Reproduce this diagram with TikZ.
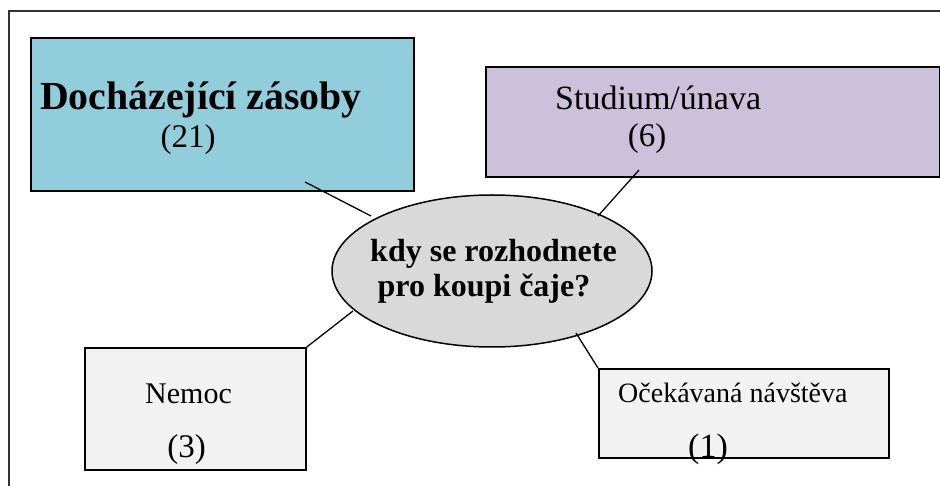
\documentclass[tikz,border=0pt]{standalone}
\usepackage{fontspec}
\setmainfont{Liberation Serif}
\usetikzlibrary{shapes.geometric}
\definecolor{aquafill}{HTML}{92CDDC}
\definecolor{lilacfill}{HTML}{CCC0DA}
\definecolor{palefill}{HTML}{F2F2F2}
\definecolor{ovalfill}{HTML}{D9D9D9}
\begin{document}
\begin{tikzpicture}[x=1pt,y=-1pt,
  box/.style={draw=black, line width=1.8pt, inner sep=0pt, anchor=north west},
  oval/.style={ellipse, draw=black, line width=1.5pt, fill=ovalfill, inner sep=0pt,
    minimum width=320pt, minimum height=152pt},
  link/.style={draw=black, line width=1.3pt},
  txt/.style={inner sep=0pt, anchor=base},
  txtl/.style={inner sep=0pt, anchor=base west}]
\useasboundingbox (0,0) rectangle (940,486);
\clip (0,0) rectangle (940,486);

% outer frame, running off the page on the right and at the bottom
\draw[line width=1.4pt, draw=black!80] (9,495) -- (9,11) -- (950,11);

% category boxes
\node[box, fill=aquafill, minimum width=383pt, minimum height=153pt] (dz) at (30,37) {};
\node[box, fill=lilacfill, minimum width=454pt, minimum height=110pt] (st) at (485,66) {};
\node[box, fill=palefill, minimum width=221pt, minimum height=122pt] (nm) at (84,347) {};
\node[box, fill=palefill, minimum width=290pt, minimum height=89pt] (ok) at (598,368) {};

% central question
\node[oval] (q) at (492,271) {};

% connector end points
\coordinate (dz-end) at (305,182);
\coordinate (q-dz) at (371,216);
\coordinate (st-end) at (639,170);
\coordinate (q-st) at (598,216);
\coordinate (q-nm) at (353,311);
\coordinate (q-ok) at (576,333);

\draw[link] (dz-end) -- (q-dz);
\draw[link] (st-end) -- (q-st);
\draw[link] (nm.north east) -- (q-nm);
\draw[link] (q-ok) -- (ok.north west);

% labels
\node[txtl, font=\fontsize{39.8}{48}\selectfont\bfseries] (dz-t) at (40,110) {Docházející zásoby};
\node[txt, font=\fontsize{33}{40}\selectfont] (dz-n) at (188,148) {(21)};

\node[txtl, font=\fontsize{34}{40}\selectfont] (st-t) at (555,110) {Studium/únava};
\node[txt, font=\fontsize{33}{40}\selectfont] (st-n) at (647,147) {(6)};

\node[txtl, font=\fontsize{30}{36}\selectfont] (nm-t) at (145,403) {Nemoc};
\node[txt, font=\fontsize{33}{40}\selectfont] (nm-n) at (186.5,457) {(3)};

\node[txtl, font=\fontsize{28}{34}\selectfont] (ok-t) at (618,402) {Očekávaná návštěva};
\node[txt, font=\fontsize{34}{40}\selectfont] (ok-n) at (708,457) {(1)};

\node[txt, font=\fontsize{32}{38}\selectfont\bfseries] (q-t1) at (493.5,262) {kdy se rozhodnete};
\node[txt, font=\fontsize{32}{38}\selectfont\bfseries] (q-t2) at (484,297) {pro koupi čaje?};
\end{tikzpicture}
\end{document}
